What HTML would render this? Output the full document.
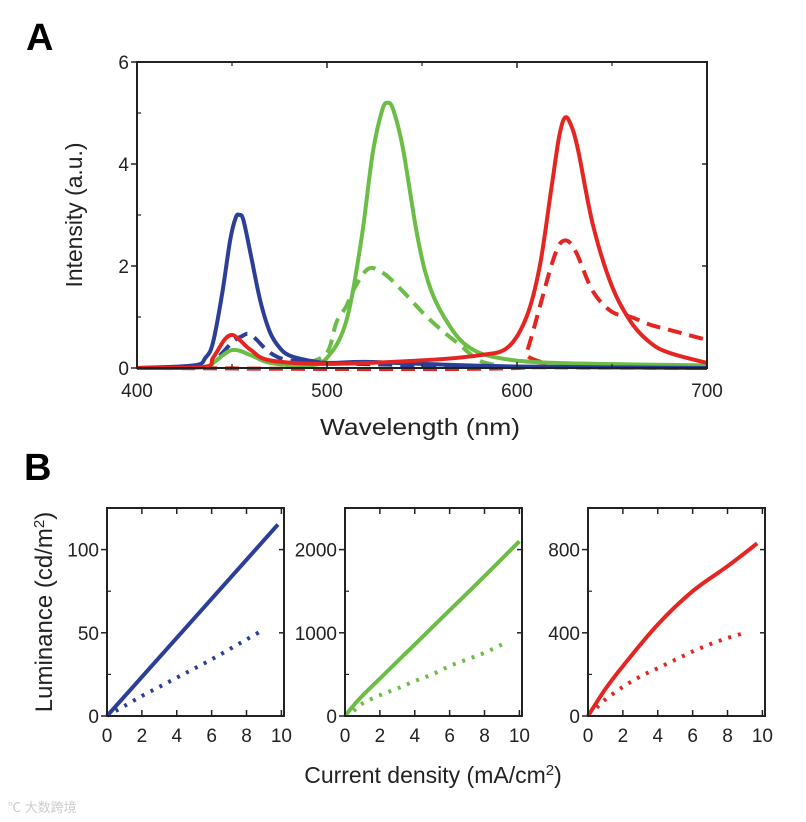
<!DOCTYPE html>
<html><head><meta charset="utf-8"><style>
body{margin:0;background:#fff;}
svg{display:block;font-family:"Liberation Sans",sans-serif;}
</style></head><body>
<svg id="c" width="806" height="822" viewBox="0 0 806 822">
<text x="26" y="50" font-size="38" font-weight="bold">A</text>
<text x="24" y="480" font-size="38" font-weight="bold">B</text>
<text x="420" y="435" font-size="23" text-anchor="middle" fill="#222" textLength="200" lengthAdjust="spacingAndGlyphs">Wavelength (nm)</text>
<text transform="translate(82,215) rotate(-90)" font-size="23" text-anchor="middle" fill="#222" textLength="145" lengthAdjust="spacingAndGlyphs">Intensity (a.u.)</text>
<text transform="translate(52,612) rotate(-90)" font-size="24" text-anchor="middle" fill="#222">Luminance (cd/m<tspan baseline-shift="super" font-size="15">2</tspan>)</text>
<text x="433" y="783" font-size="23" text-anchor="middle" fill="#222">Current density (mA/cm<tspan baseline-shift="super" font-size="15">2</tspan>)</text>
<text x="8" y="812" font-size="13" fill="#ccc" font-family="Liberation Sans, Noto Sans CJK SC, sans-serif">℃ 大数跨境</text>
</svg>
<script>
// Panel A spectra data
const wlBlue = [400,430,436,440,445,449,452,454,456,460,465,470,475,480,490,500,520,550,600,700];
const blueSolid = [0,0.05,0.2,0.5,1.5,2.5,2.95,3.0,2.9,2.2,1.3,0.7,0.4,0.25,0.15,0.1,0.12,0.08,0.03,0];
const wlBlueD = [400,435,440,450,455,460,470,480,500,550,600,700];
const blueDash = [0,0.02,0.1,0.5,0.62,0.65,0.3,0.15,0.1,0.05,0.02,0];
const wlRed = [400,435,440,446,450,454,460,470,500,550,580,595,605,612,618,622,625,628,632,640,650,660,670,680,700];
const redSolid = [0,0.02,0.2,0.55,0.65,0.55,0.35,0.15,0.08,0.15,0.25,0.4,1.0,2.0,3.5,4.5,4.9,4.8,4.3,2.8,1.6,0.9,0.5,0.3,0.1];
const wlRedD = [400,600,605,612,618,622,625,628,632,640,650,660,670,680,690,700];
const redDash = [0,0,0.3,1.2,2.0,2.4,2.5,2.45,2.2,1.5,1.1,1.0,0.85,0.75,0.65,0.55];
const wlGreen = [400,435,440,450,460,470,490,500,510,518,524,529,532,535,540,548,555,565,575,590,620,700];
const greenSolid = [0,0.02,0.1,0.35,0.25,0.1,0.05,0.2,0.9,2.5,4.2,5.05,5.2,5.05,4.3,2.5,1.5,0.8,0.4,0.2,0.1,0.05];
const wlGreenD = [490,500,505,510,515,522,530,540,550,560,570,580,590];
const greenDash = [0.1,0.3,0.9,1.2,1.6,1.95,1.85,1.5,1.1,0.75,0.45,0.15,0.05];
const xTicksA = [400,500,600,700];
const yTicksA = [0,2,4,6];
// Panel B data
const jBlue = [0,9.8]; const lBlue = [0,115];
const jBlueD = [0.5,1,2,3,4,5,6,7,8,9]; const lBlueD = [3,6,12,17.5,23,28.5,34,40,46,52];
const jGreen = [0,0.8,2,4,6,8,10]; const lGreen = [0,200,450,860,1270,1680,2100];
const jGreenD = [0.5,1,2,3,4,5,6,7,8,9.2]; const lGreenD = [60,150,250,330,420,500,600,680,760,880];
const jRed = [0,1,2,4,6,8,9.7]; const lRed = [0,130,240,440,600,720,830];
const jRedD = [0.5,1,2,3,4,5,6,7,8,9]; const lRedD = [40,80,140,190,230,270,310,345,375,400];
const xTicksB = [0,2,4,6,8,10];
const yTicksB1 = [0,50,100]; const yTicksB2 = [0,1000,2000]; const yTicksB3 = [0,400,800];

const NS='http://www.w3.org/2000/svg';
const svg=document.getElementById('c');
function mk(t,a,p){const e=document.createElementNS(NS,t);for(const k in a)e.setAttribute(k,a[k]);(p||svg).appendChild(e);return e;}
const BLUE='#2b3f98',GREEN='#6bbd45',RED='#e52521';

function smooth(pts){
  let d='M'+pts[0][0].toFixed(1)+','+pts[0][1].toFixed(1);
  for(let i=0;i<pts.length-1;i++){
    const p0=pts[Math.max(0,i-1)],p1=pts[i],p2=pts[i+1],p3=pts[Math.min(pts.length-1,i+2)];
    const c1=[p1[0]+(p2[0]-p0[0])/6,p1[1]+(p2[1]-p0[1])/6];
    const c2=[p2[0]-(p3[0]-p1[0])/6,p2[1]-(p3[1]-p1[1])/6];
    d+='C'+c1[0].toFixed(1)+','+c1[1].toFixed(1)+' '+c2[0].toFixed(1)+','+c2[1].toFixed(1)+' '+p2[0].toFixed(1)+','+p2[1].toFixed(1);
  }
  return d;
}

function plot(o){
  const g=mk('g',{});
  
  
  const sx=v=>o.x0+(v-o.xmin)/(o.xmax-o.xmin)*(o.x1-o.x0);
  const sy=v=>o.y1-(v-o.ymin)/(o.ymax-o.ymin)*(o.y1-o.y0);
  o.series.forEach(s=>{
    const d=smooth(s.x.map((v,i)=>[sx(v),sy(s.y[i])]));
    const p=mk('path',{d:d,fill:'none',stroke:s.c,'stroke-width':s.w||4,'stroke-dasharray':s.dash||'none','stroke-linejoin':'round','stroke-linecap':s.cap||'butt'},g);
    
    
  });
  const fr=mk('rect',{x:o.x0,y:o.y0,width:o.x1-o.x0,height:o.y1-o.y0,fill:'none',stroke:'#222','stroke-width':2},g);
  
  
  o.xt.forEach(v=>{
    const x=sx(v);
    mk('line',{x1:x,x2:x,y1:o.y1,y2:o.y1-6,stroke:'#222','stroke-width':1.5},g);
    mk('line',{x1:x,x2:x,y1:o.y0,y2:o.y0+6,stroke:'#222','stroke-width':1.5},g);
    const t=mk('text',{x:x,y:o.y1+o.xoff,'font-size':o.fs,'text-anchor':'middle',fill:'#222'},g);
    t.textContent=v;
    
    
  });
  (o.xm||[]).forEach(v=>{const x=sx(v);
    mk('line',{x1:x,x2:x,y1:o.y1,y2:o.y1-4,stroke:'#222','stroke-width':1.2},g);
    mk('line',{x1:x,x2:x,y1:o.y0,y2:o.y0+4,stroke:'#222','stroke-width':1.2},g);});
  o.yt.forEach(v=>{
    const y=sy(v);
    mk('line',{x1:o.x0,x2:o.x0-6,y1:y,y2:y,stroke:'#222','stroke-width':1.5},g);
    mk('line',{x1:o.x1,x2:o.x1-5,y1:y,y2:y,stroke:'#222','stroke-width':1.5},g);
    const t=mk('text',{x:o.x0-8,y:y+7,'font-size':o.fs,'text-anchor':'end',fill:'#222'},g);
    t.textContent=v;
    
    
  });
  (o.ym||[]).forEach(v=>{const y=sy(v);
    mk('line',{x1:o.x0,x2:o.x0+4,y1:y,y2:y,stroke:'#222','stroke-width':1.2},g);});
}

plot({name:'spectra-chart',x0:137,x1:707,y0:62,y1:368,xmin:400,xmax:700,ymin:0,ymax:6,fs:19,xoff:29,
  xt:xTicksA,yt:yTicksA,xm:[450,550,650],ym:[1,3,5],
  series:[
    {x:wlRedD,y:redDash,c:RED,dash:'14 8',n:'red-dashed-spectrum'},
    {x:wlGreenD,y:greenDash,c:GREEN,dash:'14 8',n:'green-dashed-spectrum'},
    {x:wlBlueD,y:blueDash,c:BLUE,dash:'14 8',n:'blue-dashed-spectrum'},
    {x:wlGreen,y:greenSolid,c:GREEN,n:'green-solid-spectrum'},
    {x:wlBlue,y:blueSolid,c:BLUE,n:'blue-solid-spectrum'},
    {x:wlRed,y:redSolid,c:RED,n:'red-solid-spectrum'}
  ]});
const common={y0:508,y1:716,xmin:0,xmax:10.15,ymin:0,fs:19,xoff:26,xt:xTicksB};
plot(Object.assign({},common,{name:'blue-luminance-chart',x0:107,x1:284,ymax:125,yt:yTicksB1,ym:[25,75],
  series:[{x:jBlue,y:lBlue,c:BLUE,n:'blue-solid-luminance'},{x:jBlueD,y:lBlueD,c:BLUE,dash:'3 7',w:4,n:'blue-dotted-luminance'}]}));
plot(Object.assign({},common,{name:'green-luminance-chart',x0:345,x1:522,ymax:2500,yt:yTicksB2,ym:[500,1500],
  series:[{x:jGreen,y:lGreen,c:GREEN,n:'green-solid-luminance'},{x:jGreenD,y:lGreenD,c:GREEN,dash:'3 7',w:4,n:'green-dotted-luminance'}]}));
plot(Object.assign({},common,{name:'red-luminance-chart',x0:588,x1:765,ymax:1000,yt:yTicksB3,ym:[200,600],
  series:[{x:jRed,y:lRed,c:RED,n:'red-solid-luminance'},{x:jRedD,y:lRedD,c:RED,dash:'3 7',w:4,n:'red-dotted-luminance'}]}));
</script>
</body></html>
